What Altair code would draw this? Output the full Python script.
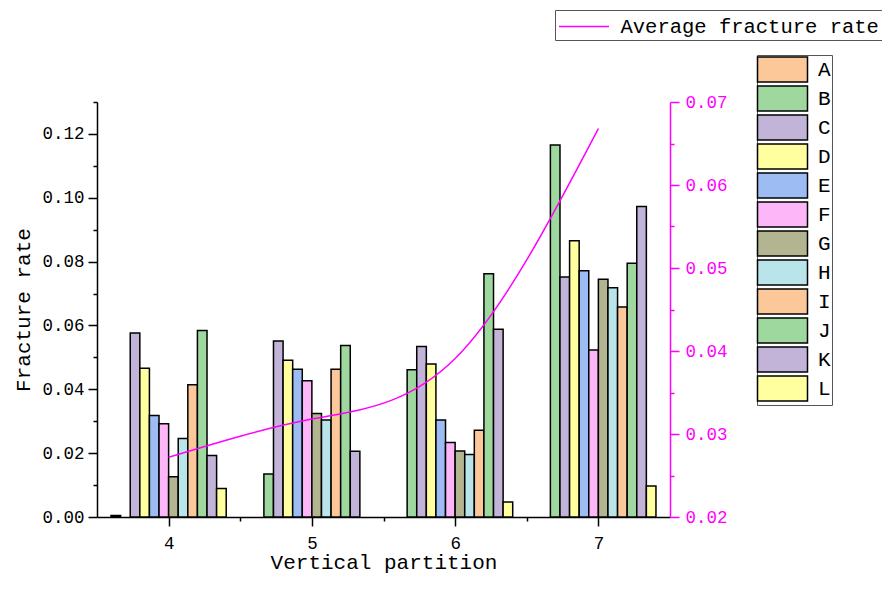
import altair as alt
import pandas as pd

groups = [4, 5, 6, 7]
letters = ["A", "B", "C", "D", "E", "F", "G", "H", "I", "J", "K", "L"]
rate_A = [0.0005, 0.0, 0.0, 0.0]
rate_B = [0.0, 0.0135, 0.0461, 0.1165]
rate_C = [0.0576, 0.0551, 0.0534, 0.0752]
rate_D = [0.0466, 0.0491, 0.0479, 0.0865]
rate_E = [0.0318, 0.0463, 0.0304, 0.0771]
rate_F = [0.0292, 0.0427, 0.0233, 0.0523]
rate_G = [0.0126, 0.0324, 0.0207, 0.0745]
rate_H = [0.0246, 0.0304, 0.0196, 0.0718]
rate_I = [0.0414, 0.0463, 0.0272, 0.0658]
rate_J = [0.0584, 0.0537, 0.0762, 0.0795]
rate_K = [0.0193, 0.0206, 0.0588, 0.0973]
rate_L = [0.0089, 0.0, 0.0047, 0.0097]
avg_rate = [0.0272, 0.0318, 0.0391, 0.0668]
series_colors = ["#FCC89A", "#9FD89F", "#C2B3D8", "#FFFF9F", "#9EBCF4", "#FDB6F7",
                 "#B2B590", "#B8E4EA", "#FCC89A", "#9FD89F", "#C2B3D8", "#FFFF9F"]

all_rates = [rate_A, rate_B, rate_C, rate_D, rate_E, rate_F,
             rate_G, rate_H, rate_I, rate_J, rate_K, rate_L]

rows = []
for li, (name, vals) in enumerate(zip(letters, all_rates)):
    for g, v in zip(groups, vals):
        rows.append({"partition": g, "series": name, "idx": li, "rate": v})
bars_df = pd.DataFrame(rows)
line_df = pd.DataFrame({"partition": groups, "avg": avg_rate,
                        "name": ["Average fracture rate"] * len(groups)})

FONT = "Liberation Mono"
MAG = "#FF00FF"
BW = 0.067

xscale = alt.Scale(domain=[3.5, 7.5], nice=False, zero=False)
x_axis = alt.Axis(
    values=[4, 4.5, 5, 5.5, 6, 6.5, 7],
    labelExpr="datum.value % 1 == 0 ? format(datum.value, 'd') : ''",
    tickSize={"condition": {"test": "datum.value % 1 == 0", "value": 9}, "value": 4},
    title="Vertical partition", grid=False,
    labelPadding=8, titlePadding=0,
)

left_vals = [round(0.01 * i, 2) for i in range(14)]
right_vals = [round(0.02 + 0.005 * i, 3) for i in range(11)]

bars = alt.Chart(bars_df).transform_filter("datum.rate > 0").transform_calculate(
    x0=f"datum.partition + (datum.idx - 6) * {BW}",
    x1=f"datum.partition + (datum.idx - 5) * {BW}",
).mark_rect(stroke="black", strokeWidth=1.5).encode(
    x=alt.X("x0:Q", scale=xscale, axis=x_axis),
    x2="x1:Q",
    y=alt.Y("rate:Q", scale=alt.Scale(domain=[0, 0.13], nice=False),
            axis=alt.Axis(
                values=left_vals,
                labelExpr="round(datum.value * 100) % 2 == 0 ? format(datum.value, '.2f') : ''",
                tickSize={"condition": {"test": "round(datum.value * 100) % 2 == 0", "value": 9}, "value": 4},
                title="Fracture rate", grid=False, titlePadding=8, labelPadding=4,
            )),
    y2=alt.datum(0),
    fill=alt.Fill("series:N", scale=alt.Scale(domain=letters, range=series_colors),
                  legend=alt.Legend(
                      orient="none", legendX=660, legendY=-47, title=None,
                      symbolType="M-2,-1H2V1H-2Z", symbolSize=625, symbolOffset=11,
                      symbolStrokeColor="black", symbolStrokeWidth=1.5,
                      labelFont=FONT, labelFontSize=21, labelColor="black",
                      strokeColor="#555555", padding=1, rowPadding=-4, labelOffset=22,
                      labelLimit=400,
                  )),
)

line = alt.Chart(line_df).mark_line(strokeWidth=1.5, interpolate="natural").encode(
    x=alt.X("partition:Q", scale=xscale, axis=x_axis),
    y=alt.Y("avg:Q", scale=alt.Scale(domain=[0.02, 0.07], nice=False, zero=False),
            axis=alt.Axis(
                orient="right", values=right_vals,
                labelExpr="round(datum.value * 1000) % 10 == 0 ? format(datum.value, '.2f') : ''",
                tickSize={"condition": {"test": "round(datum.value * 1000) % 10 == 0", "value": 9}, "value": 4},
                title=None, grid=False, domainColor=MAG, tickColor=MAG, labelColor=MAG,
                labelPadding=6,
            )),
    stroke=alt.Stroke("name:N", scale=alt.Scale(range=[MAG]),
                      legend=alt.Legend(
                          orient="none", legendX=458, legendY=-92, title=None,
                          symbolType="M-2,0H2", symbolSize=625, symbolOffset=12.5,
                          symbolStrokeWidth=1.5,
                          labelFont=FONT, labelFontSize=20.5, labelColor="black",
                          strokeColor="#555555", padding=3, labelOffset=23,
                          labelLimit=400,
                      )),
)

chart = alt.layer(bars, line).resolve_scale(y="independent", fill="independent", stroke="independent").properties(
    width=573, height=415,
    autosize=alt.AutoSizeParams(type="none"),
    padding={"left": 89, "top": 94, "right": 212, "bottom": 61},
    background="white",
).configure_view(strokeWidth=0).configure_axis(
    labelFont=FONT, labelFontSize=17.5, titleFont=FONT, titleFontSize=21,
    titleFontWeight="normal", domainColor="black", tickColor="black",
    labelColor="black", titleColor="black", domainWidth=1.5, tickWidth=1.5,
)

chart.save("out.html", embed_options={"renderer": "svg", "actions": False})
